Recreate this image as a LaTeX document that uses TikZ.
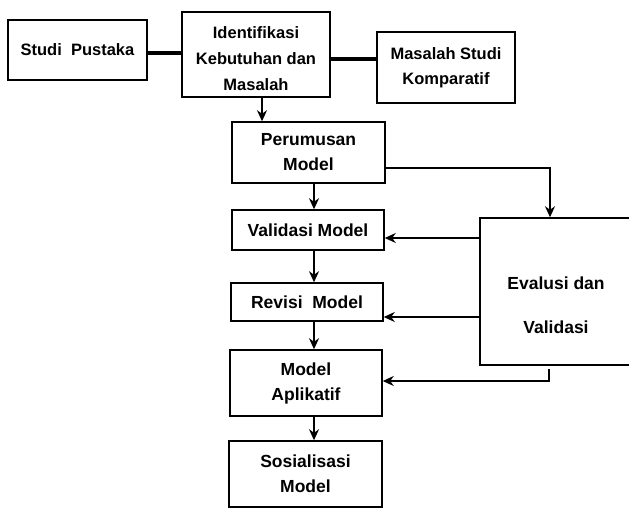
\documentclass[tikz,border=0pt]{standalone}
\usepackage{fontspec}
\setmainfont{Liberation Sans}
\usetikzlibrary{arrows.meta}
\begin{document}
\begin{tikzpicture}[x=1pt,y=-1pt,
  box/.style={draw,line width=1.5pt,minimum width=#1,inner sep=0pt,align=center,
    font=\fontsize{17.5}{25}\selectfont\bfseries},
  topbox/.style={box=#1,font=\fontsize{16.5}{25}\selectfont\bfseries},
  link/.style={line width=4pt},
  arr/.style={line width=2.8pt,-{Stealth[length=11pt,width=10pt]}}]
\useasboundingbox (0,0) rectangle (629,508);
% top row
\node[topbox=139pt,minimum height=60pt] (sp) at (77.5,50) {Studi\ \ Pustaka};
\node[topbox=148pt,minimum height=85pt,
  label={[font=\fontsize{16.5}{26}\selectfont\bfseries,align=center,yshift=-4pt]center:Identifikasi\\Kebutuhan dan\\Masalah}] (id) at (256,54.5) {};
\node[topbox=138pt,minimum height=71pt] (ms) at (446,67.5) {Masalah Studi\\Komparatif};
% main column
\node[box=153pt,minimum height=61pt] (pm) at (308.5,152.5) {Perumusan\\Model};
\node[box=152pt,minimum height=40pt] (vm) at (308,230) {Validasi Model};
\node[box=152pt,minimum height=38pt] (rm) at (307,302) {Revisi\ \ Model};
\node[box=152pt,minimum height=66pt] (ma) at (306,383) {Model\\Aplikatif};
\node[box=153pt,minimum height=66pt] (ss) at (305.5,474) {Sosialisasi\\Model};
% evaluation box
\node[box=152pt,minimum height=147pt] (ev) at (556,291.5) {};
\node[font=\fontsize{17.5}{44}\selectfont\bfseries,align=center] (evt) at (556,305) {Evalusi dan\\Validasi};
% helper coordinates
\coordinate (ya) at (0,53);
\coordinate (yb) at (0,59);
\coordinate (xc) at (314,0);
\coordinate (xd) at (262,0);
\coordinate (k1) at (550,168);
\coordinate (y2) at (0,238);
\coordinate (y3) at (0,317);
\coordinate (k2) at (549,381);
% connectors
\draw[link] (sp.east |- ya) -- (id.west |- ya);
\draw[link] (id.east |- yb) -- (ms.west |- yb);
\draw[arr] (id.south -| xd) -- (pm.north -| xd);
\draw[arr] (pm.south -| xc) -- (vm.north -| xc);
\draw[arr] (vm.south -| xc) -- (rm.north -| xc);
\draw[arr] (rm.south -| xc) -- (ma.north -| xc);
\draw[arr] (ma.south -| xc) -- (ss.north -| xc);
\draw[arr,line join=miter] (pm.east |- k1) -- (k1) -- (ev.north -| k1);
\draw[arr] (ev.west |- y2) -- (vm.east |- y2);
\draw[arr] (ev.west |- y3) -- (rm.east |- y3);
\draw[arr,line join=miter] ([yshift=-3pt]ev.south -| k2) -- (k2) -- (ma.east |- k2);
\end{tikzpicture}
\end{document}
